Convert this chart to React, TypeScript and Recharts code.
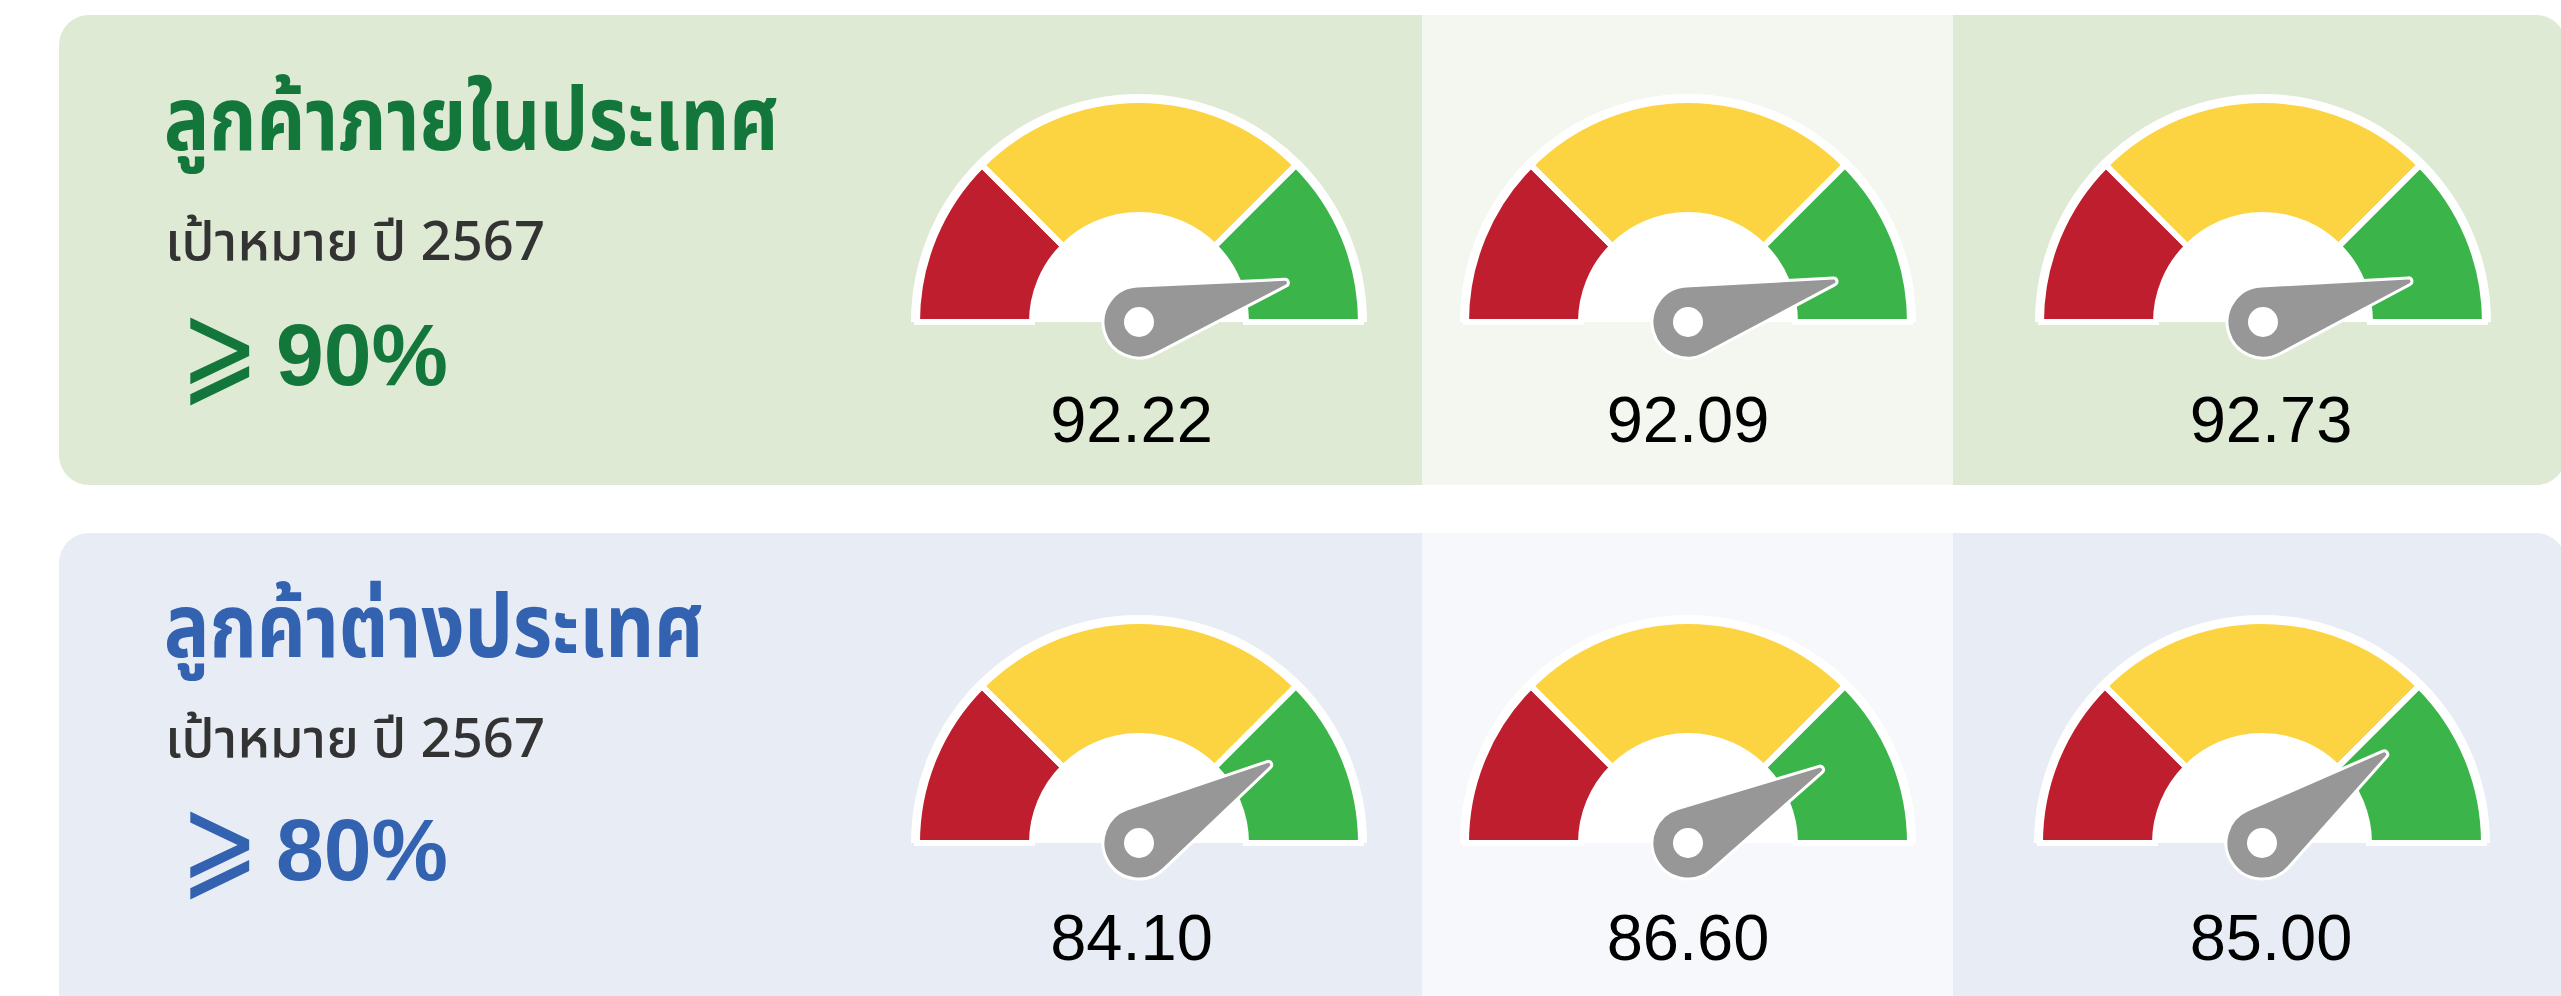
import React from 'react';
import { PieChart, Pie, Cell } from 'recharts';

// ---------------- data ----------------
const segmentNames = ['ต่ำ', 'ปานกลาง', 'สูง'];
const segmentShares = [25, 50, 25];
const segmentColors = ['#be1e2d', '#fcd441', '#3bb54a'];

const rowTitles = ['ลูกค้าภายในประเทศ', 'ลูกค้าต่างประเทศ'];
const rowSubtitles = ['เป้าหมาย ปี 2567', 'เป้าหมาย ปี 2567'];
const rowTargets = ['90%', '80%'];

const domesticScores = ['92.22', '92.09', '92.73'];
const foreignScores = ['84.10', '86.60', '85.00'];
// needle positions, on the gauge's 0–100 scale
const domesticNeedle = [91.65, 91.37, 91.33];
const foreignNeedle = [82.69, 83.86, 80.02];
const gaugeMax = 100;

// ---------------- layout ----------------
const PAGE_W = 2561;
const PAGE_H = 996;
const CHART_W = 480;
const CHART_H = 300;
const CX = 240;
const CY = 250;

const gaugeCentersX = [[1139, 1688, 2263], [1139, 1688, 2262]];
const gaugeCentersY = [322, 843];
const numberCentersX = [1131.5, 1688, 2271];
const numberBaselines = [442, 960];
const symbolBaselines = [389.5, 883.5];

const rowTheme = [
  { panel: '#deead3', mid: '#f4f7f0', accent: '#13773b', top: 15, height: 470 },
  { panel: '#e8edf5', mid: '#f6f8fb', accent: '#3262b0', top: 533, height: 500 },
];

const segmentData = segmentNames.map((name, i) => ({ name, value: segmentShares[i] }));

function polar(cx: number, cy: number, r: number, deg: number) {
  const a = (deg * Math.PI) / 180;
  return { x: cx + r * Math.cos(a), y: cy - r * Math.sin(a) };
}

const renderNeedle = (props: any) => {
  if (props.index !== 0) return null;
  const { cx, cy, endAngle } = props;
  const R = 36;
  const r = 3.5;
  const L = 151;
  const tip = polar(cx, cy, L, endAngle);
  const phi = (Math.acos((R - r) / L) * 180) / Math.PI;
  const b1 = polar(cx, cy, R, endAngle + phi);
  const b2 = polar(cx, cy, R, endAngle - phi);
  const t1 = polar(tip.x, tip.y, r, endAngle + phi);
  const t2 = polar(tip.x, tip.y, r, endAngle - phi);
  const d = `M ${b1.x} ${b1.y} L ${t1.x} ${t1.y} A ${r} ${r} 0 0 1 ${t2.x} ${t2.y} L ${b2.x} ${b2.y} A ${R} ${R} 0 1 1 ${b1.x} ${b1.y} Z`;
  return (
    <g>
      <path d={d} fill="#979797" stroke="#ffffff" strokeWidth={3} strokeLinejoin="round" />
      <circle cx={cx} cy={cy} r={15} fill="#ffffff" />
    </g>
  );
};

function Gauge({ needle, left, top }: { needle: number; left: number; top: number }) {
  const needleData = [
    { name: 'value', value: needle },
    { name: 'rest', value: gaugeMax - needle },
  ];
  return (
    <div style={{ position: 'absolute', left, top, width: CHART_W, height: CHART_H }}>
      <PieChart width={CHART_W} height={CHART_H} margin={{ top: 0, right: 0, bottom: 0, left: 0 }}>
        <Pie
          data={[{ name: 'base', value: 1 }]}
          dataKey="value"
          cx={CX}
          cy={CY}
          startAngle={180}
          endAngle={0}
          innerRadius={0}
          outerRadius={228}
          fill="#ffffff"
          stroke="none"
          isAnimationActive={false}
        />
        <Pie
          data={segmentData}
          dataKey="value"
          cx={CX}
          cy={CY}
          startAngle={180}
          endAngle={0}
          innerRadius={107}
          outerRadius={222}
          stroke="#ffffff"
          strokeWidth={6}
          isAnimationActive={false}
        >
          {segmentData.map((d, i) => (
            <Cell key={d.name} fill={segmentColors[i]} stroke="#ffffff" strokeWidth={6} />
          ))}
        </Pie>
        <Pie
          data={needleData}
          dataKey="value"
          cx={CX}
          cy={CY}
          startAngle={180}
          endAngle={0}
          innerRadius={0}
          outerRadius={150}
          fill="transparent"
          stroke="none"
          label={renderNeedle}
          labelLine={false}
          isAnimationActive={false}
        >
          {needleData.map((d) => (
            <Cell key={d.name} fill="transparent" stroke="none" />
          ))}
        </Pie>
      </PieChart>
    </div>
  );
}

const thaiFont = '"Noto Sans Thai", "Noto Sans Thai UI", Loma, Garuda, Waree, "Noto Sans", "DejaVu Sans", sans-serif';
const numFont = '"Liberation Sans", Arial, Helvetica, sans-serif';

export default function App() {
  const rows = [
    { scores: domesticScores, needles: domesticNeedle },
    { scores: foreignScores, needles: foreignNeedle },
  ];
  const titleWidths = [615, 540];
  const titleBaselines = [150, 657];
  const subBaselines = [260, 757];
  const targetBaselines = [385, 880];
  return (
    <div style={{ position: 'absolute', left: 0, top: 0, width: PAGE_W, height: PAGE_H, overflow: 'hidden', background: '#ffffff' }}>
      {rowTheme.map((t, ri) => (
        <React.Fragment key={ri}>
          <div style={{ position: 'absolute', left: 59, top: t.top, width: 2507, height: t.height, borderRadius: 30, background: t.panel }} />
          <div style={{ position: 'absolute', left: 1422, top: t.top, width: 531, height: t.height, background: t.mid }} />
        </React.Fragment>
      ))}
      {rows.map((row, ri) =>
        row.needles.map((n, gi) => (
          <Gauge key={`${ri}-${gi}`} needle={n} left={gaugeCentersX[ri][gi] - CX} top={gaugeCentersY[ri] - CY} />
        ))
      )}
      <svg width={PAGE_W} height={PAGE_H} style={{ position: 'absolute', left: 0, top: 0, pointerEvents: 'none' }}>
        {rowTheme.map((t, ri) => (
          <g key={`txt-${ri}`}>
            <text x={164} y={titleBaselines[ri]} fill={t.accent} fontFamily={thaiFont} fontWeight={700} fontSize={88} textLength={titleWidths[ri]} lengthAdjust="spacingAndGlyphs">{rowTitles[ri]}</text>
            <text x={165} y={subBaselines[ri]} fill="#333333" fontFamily={thaiFont} fontWeight={500} fontSize={54} textLength={380} lengthAdjust="spacingAndGlyphs">{rowSubtitles[ri]}</text>
            <text transform={`translate(180.5, ${symbolBaselines[ri]}) scale(0.94, 1.25)`} x={0} y={0} fill={t.accent} fontFamily='"DejaVu Sans", sans-serif' fontSize={100}>⩾</text>
            <text x={276} y={targetBaselines[ri]} fill={t.accent} fontFamily={numFont} fontWeight={700} fontSize={88} textLength={172} lengthAdjust="spacingAndGlyphs">{rowTargets[ri]}</text>
          </g>
        ))}
        {rows.map((row, ri) =>
          row.scores.map((s, gi) => (
            <text key={`n-${ri}-${gi}`} x={numberCentersX[gi]} y={numberBaselines[ri]} textAnchor="middle" fill="#000000" fontFamily={numFont} fontSize={65}>{s}</text>
          ))
        )}
      </svg>
    </div>
  );
}
